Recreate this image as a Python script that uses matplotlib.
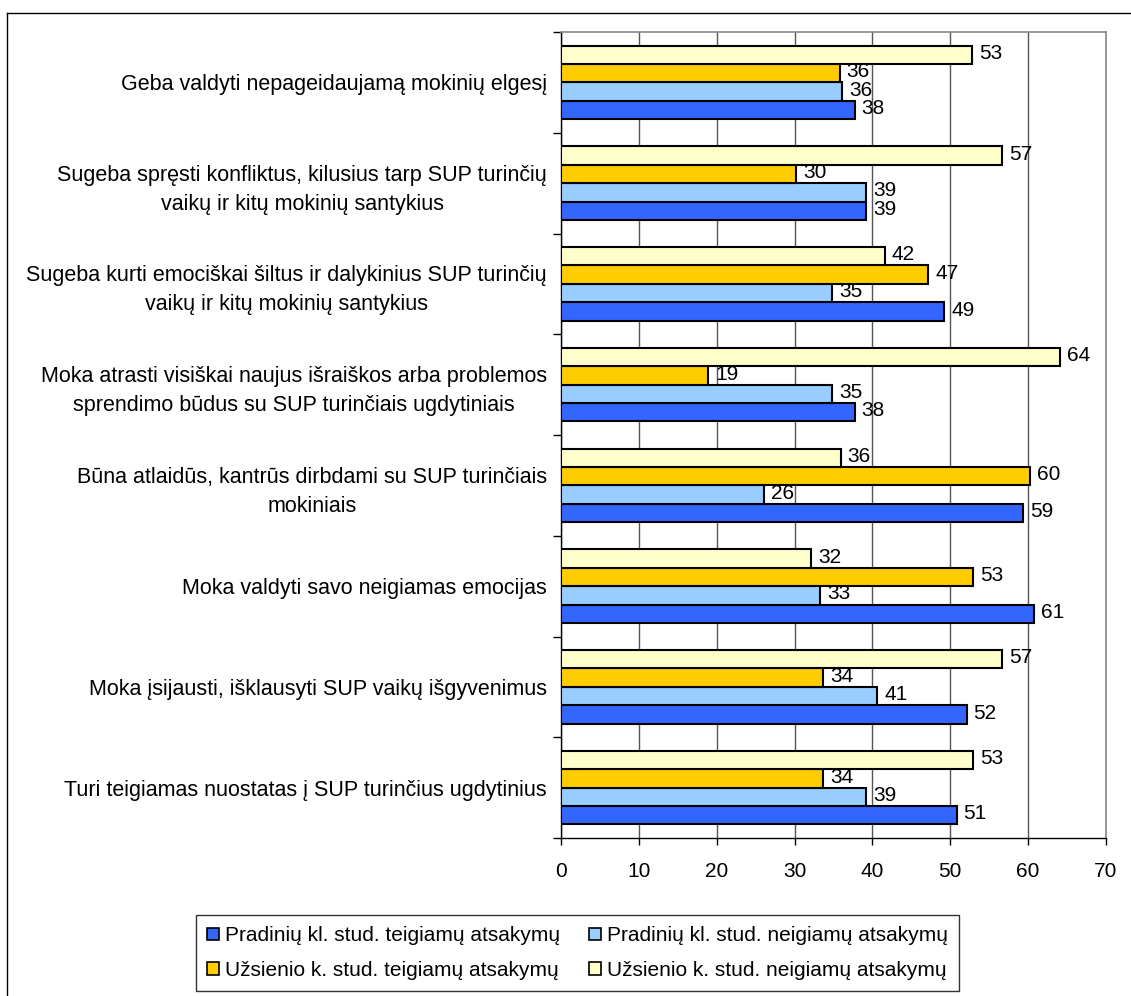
import matplotlib
matplotlib.use("Agg")
import matplotlib.pyplot as plt
from matplotlib.lines import Line2D
import numpy as np

plt.rcParams['font.family'] = ['Liberation Sans', 'DejaVu Sans']

categories = [
    "Geba valdyti nepageidaujamą mokinių elgesį",
    "Sugeba spręsti konfliktus, kilusius tarp SUP turinčių\nvaikų ir kitų mokinių santykius",
    "Sugeba kurti emociškai šiltus ir dalykinius SUP turinčių\nvaikų ir kitų mokinių santykius",
    "Moka atrasti visiškai naujus išraiškos arba problemos\nsprendimo būdus su SUP turinčiais ugdytiniais",
    "Būna atlaidūs, kantrūs dirbdami su SUP turinčiais\nmokiniais",
    "Moka valdyti savo neigiamas emocijas",
    "Moka įsijausti, išklausyti SUP vaikų išgyvenimus",
    "Turi teigiamas nuostatas į SUP turinčius ugdytinius",
]

series_names = [
    "Pradinių kl. stud. teigiamų atsakymų",
    "Pradinių kl. stud. neigiamų atsakymų",
    "Užsienio k. stud. teigiamų atsakymų",
    "Užsienio k. stud. neigiamų atsakymų",
]

pradiniu_teig = [37.7, 39.2, 49.2, 37.7, 59.4, 60.7, 52.1, 50.8]
pradiniu_neig = [36.1, 39.2, 34.8, 34.8, 26.1, 33.3, 40.6, 39.2]
uzsienio_teig = [35.8, 30.2, 47.2, 18.9, 60.2, 52.9, 33.7, 33.7]
uzsienio_neig = [52.8, 56.7, 41.6, 64.1, 35.9, 32.1, 56.7, 52.9]

colors = ["#3366FF", "#99CCFF", "#FFCC00", "#FFFFCC"]

xticks = [0, 10, 20, 30, 40, 50, 60, 70]

W, H = 1131, 996
fig = plt.figure(figsize=(W / 100, H / 100), dpi=100)
fig.patch.set_facecolor('white')

ax = fig.add_axes([561 / W, 1 - 838 / H, (1106 - 561) / W, (838 - 32) / H])

n = len(categories)
centers = np.arange(n)[::-1].astype(float)
h = 0.183
offsets = [-1.5 * h, -0.5 * h, 0.5 * h, 1.5 * h]
all_series = [pradiniu_teig, pradiniu_neig, uzsienio_teig, uzsienio_neig]

handles = []
for vals, col, off, name in zip(all_series, colors, offsets, series_names):
    bars = ax.barh(centers + off, vals, height=h, color=col, edgecolor='black',
                   linewidth=1.5, label=name, zorder=3)
    handles.append(bars)
    for b, v in zip(bars, vals):
        ax.annotate(f"{v:.0f}", xy=(v, b.get_y() + b.get_height() / 2),
                    xytext=(5, 1), textcoords='offset points', ha='left',
                    va='center', fontsize=15, color='black', zorder=4)

ax.set_xlim(0, 70)
ax.set_ylim(-0.5, n - 0.5)
ax.set_xticks(xticks)
ax.set_xticklabels([str(t) for t in xticks], fontsize=15)
ax.tick_params(axis='x', direction='out', length=5, width=1, pad=12, color='black')

ax.set_yticks(centers)
ax.set_yticklabels(categories, fontsize=15.5, ha='right', multialignment='center',
                   linespacing=1.5)
ax.tick_params(axis='y', which='major', length=0, pad=10)
ax.set_yticks(np.arange(-0.5, n, 1.0), minor=True)
ax.tick_params(axis='y', which='minor', direction='out', length=6, width=1, color='black')

ax.grid(axis='x', color='#555555', linewidth=1, zorder=0)
ax.set_axisbelow(True)
for s in ['top', 'right']:
    ax.spines[s].set_color('#888888')
    ax.spines[s].set_linewidth(1.2)
for s in ['left', 'bottom']:
    ax.spines[s].set_color('black')
    ax.spines[s].set_linewidth(1)

# outer chart border
fig.add_artist(Line2D([7 / W, 1], [1 - 13 / H, 1 - 13 / H], color='black',
                      linewidth=1, transform=fig.transFigure))
fig.add_artist(Line2D([7 / W, 7 / W], [0, 1 - 13 / H], color='black',
                      linewidth=1, transform=fig.transFigure))

leg_handles = [handles[0], handles[2], handles[1], handles[3]]
leg_labels = [series_names[0], series_names[2], series_names[1], series_names[3]]
leg = fig.legend(leg_handles, leg_labels, ncol=2, loc='center',
                 bbox_to_anchor=((192 + 963) / 2 / W, 1 - 953 / H),
                 bbox_transform=fig.transFigure, fontsize=15, frameon=True,
                 fancybox=False, edgecolor='black', handlelength=0.55,
                 handleheight=0.55, handletextpad=0.3, columnspacing=1.4,
                 labelspacing=0.75, borderpad=0.55, borderaxespad=0)
leg.get_frame().set_linewidth(1)
for p in leg.get_patches():
    p.set_linewidth(1.2)

fig.savefig("out.png", dpi=100, facecolor='white')
